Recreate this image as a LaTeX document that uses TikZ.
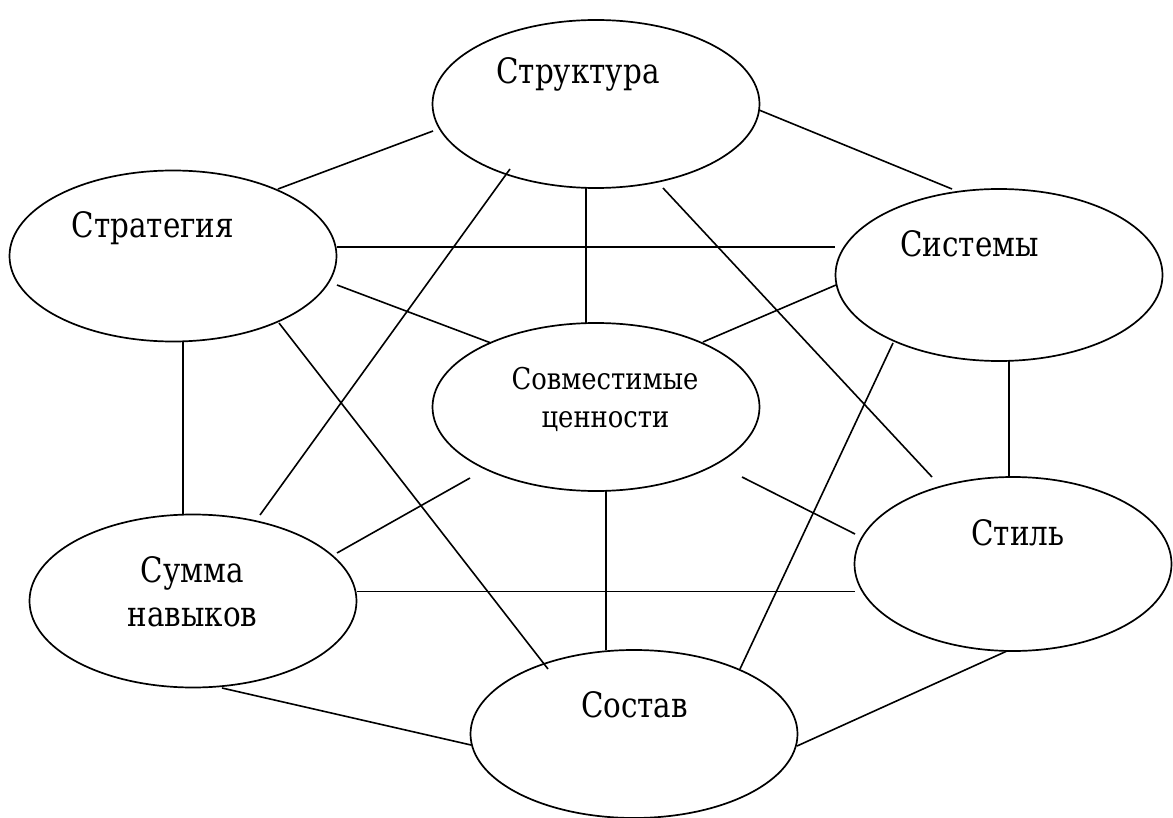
\documentclass[tikz,border=0pt]{standalone}
\usepackage{fontspec}
\setmainfont{DejaVu Serif}
\newfontfamily\tnr{DejaVu Serif}[FakeStretch=0.84]
\newfontfamily\tnrs{DejaVu Serif}[FakeStretch=0.86]
\usetikzlibrary{shapes.geometric,calc}
\begin{document}
\begin{tikzpicture}[x=1pt,y=-1pt,
  oval/.style={draw=black,line width=1.7pt,ellipse,inner sep=0pt,minimum width=#1},
  oval/.default=327pt,
  conn/.style={draw=black,line width=1.6pt},
  lbl/.style={inner sep=0pt,anchor=base,font=\tnr\fontsize{35}{40}\selectfont},
  slbl/.style={inner sep=0pt,anchor=base,font=\tnrs\fontsize{30}{36}\selectfont}]
\fill[white] (0,0) rectangle (1173,818);
\useasboundingbox (0,0) rectangle (1173,818);
% ellipses
\node[oval,minimum height=168pt] (struct) at (596,104) {};
\node[oval,minimum height=171pt] (strat) at (173,256) {};
\node[oval,minimum height=172pt] (sys) at (999,275) {};
\node[oval,minimum height=168pt] (comp) at (596,407) {};
\node[oval=317pt,minimum height=174pt] (style) at (1013,564) {};
\node[oval,minimum height=173pt] (summa) at (193,601) {};
\node[oval,minimum height=168pt] (sostav) at (634,734) {};
% labels
\node[lbl] (tstruct) at (578,84) {Структура};
\node[lbl] (tstrat) at (153,238) {Стратегия};
\node[lbl] (tsys) at (969.5,257) {Системы};
\node[slbl] (tcomp1) at (605,389) {Совместимые};
\node[slbl] (tcomp2) at (605.5,427) {ценности};
\node[lbl] (tsum1) at (192.5,582) {Сумма};
\node[lbl] (tsum2) at (192.5,626) {навыков};
\node[lbl] (tstyle) at (1018,545) {Стиль};
\node[lbl] (tsostav) at (634.5,717) {Состав};
% connectors
\draw[conn] ($(struct)+(-163,27)$) -- ($(strat)+(105,-67)$);
\draw[conn] ($(struct)+(163,6)$) -- ($(sys)+(-47,-86)$);
\draw[conn] ($(strat)+(164,-9)$) -- ($(sys)+(-164,-28)$);
\draw[conn] ($(struct)+(-10,84)$) -- ($(comp)+(-10,-84)$);
\draw[conn] ($(strat)+(164,29)$) -- ($(comp)+(-105,-64)$);
\draw[conn] ($(sys)+(-163,10)$) -- ($(comp)+(107,-65)$);
\draw[conn] ($(struct)+(-86,65)$) -- ($(summa)+(67,-86)$);
\draw[conn] ($(struct)+(67,84)$) -- ($(style)+(-81,-87)$);
\draw[conn] ($(strat)+(10,86)$) -- ($(summa)+(-10,-86)$);
\draw[conn] ($(strat)+(106,67)$) -- ($(sostav)+(-86,-65)$);
\draw[conn] ($(sys)+(-106,68)$) -- ($(sostav)+(106,-65)$);
\draw[conn] ($(sys)+(10,86)$) -- ($(style)+(-4,-87)$);
\draw[conn] ($(comp)+(-126,71)$) -- ($(summa)+(144,-48)$);
\draw[conn] ($(comp)+(146,70)$) -- ($(style)+(-158,-30)$);
\draw[conn] ($(comp)+(10,84)$) -- ($(sostav)+(-28,-84)$);
\draw[conn] ($(summa)+(164,-9.5)$) -- ($(style)+(-158,27.5)$);
\draw[conn] ($(summa)+(29,87)$) -- ($(sostav)+(-163,11)$);
\draw[conn] ($(style)+(-6,87)$) -- ($(sostav)+(163,12)$);
\end{tikzpicture}
\end{document}
